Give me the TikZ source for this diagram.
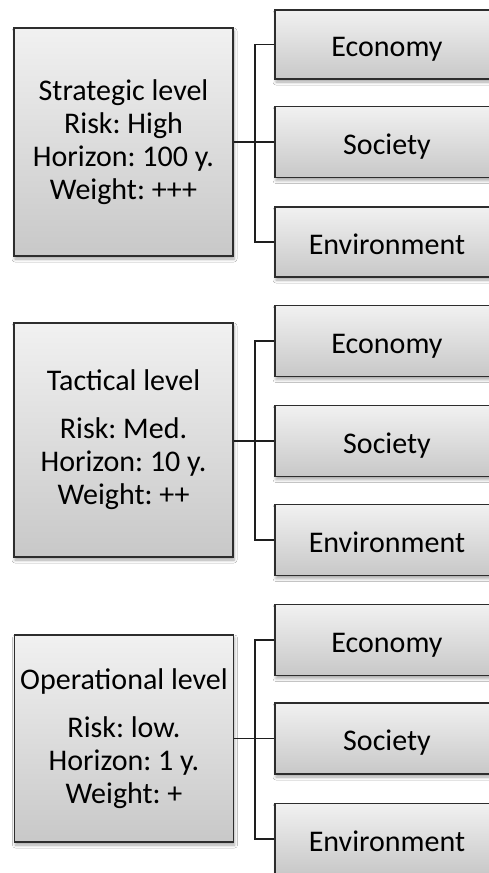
\documentclass[tikz,border=0pt]{standalone}
\usepackage{fontspec}
\setmainfont{Carlito}
\frenchspacing
\usetikzlibrary{shadows.blur}
\begin{document}
\begin{tikzpicture}[x=1pt,y=-1pt,
  box/.style={draw={rgb,255:red,45;green,45;blue,45}, line width=1.2pt,
    top color={rgb,255:red,241;green,241;blue,241},
    bottom color={rgb,255:red,200;green,200;blue,200},
    blur shadow={shadow xshift=1pt, shadow yshift=-3pt, shadow blur steps=6,
      shadow blur radius=3pt, shadow opacity=35},
    inner sep=0pt, align=center, font=\fontsize{30}{33}\selectfont},
  levelbox/.style={box, minimum width=219pt},
  aspectbox/.style={box, minimum width=224pt, minimum height=71pt,
    text height=26pt, text depth=2pt},
  link/.style={draw={rgb,255:red,30;green,30;blue,30}, line width=1.3pt},
  trunk/.style={link, line width=1.8pt}]
\useasboundingbox (0,0) rectangle (489,873);
\fill[white] (0,0) rectangle (489,873);
\clip (0,0) rectangle (489,873);

% strategic level
\node[levelbox, minimum height=228pt] (L1) at (123.5,142)
  {Strategic level\\Risk: High\\Horizon: 100 y.\\Weight: +++};
\node[aspectbox, minimum height=69pt] (E1) at (387,44.5) {Economy};
\node[aspectbox] (S1) at (387,142) {Society};
\node[aspectbox, minimum height=70pt] (V1) at (387,242) {Environment};
\coordinate (J1) at (255,142);
\draw[trunk] (L1.east) -- (J1);
\draw[link] (J1) -- (S1.west);
\draw[link] (E1.west) -| (J1) |- (V1.west);

% tactical level
\node[levelbox, minimum height=234pt] (L2) at (123.5,440)
  {Tactical level\\[15pt]Risk: Med.\\Horizon: 10 y.\\Weight: ++};
\node[aspectbox] (E2) at (387,341) {Economy};
\node[aspectbox] (S2) at (387,441) {Society};
\node[aspectbox] (V2) at (387,540) {Environment};
\coordinate (J2) at (255,441);
\draw[trunk] (L2.east |- J2) -- (J2);
\draw[link] (J2) -- (S2.west);
\draw[link] (E2.west) -| (J2) |- (V2.west);

% operational level
\node[levelbox, minimum height=207pt] (L3) at (124,738.5)
  {Operational level\\[15pt]Risk: low.\\Horizon: 1 y.\\Weight: +};
\node[aspectbox] (E3) at (387,640) {Economy};
\node[aspectbox] (S3) at (387,738.5) {Society};
\node[aspectbox] (V3) at (387,839) {Environment};
\coordinate (J3) at (255,738.5);
\draw[trunk] (L3.east) -- (J3);
\draw[link] (J3) -- (S3.west);
\draw[link] (E3.west) -| (J3) |- (V3.west);
\end{tikzpicture}
\end{document}
